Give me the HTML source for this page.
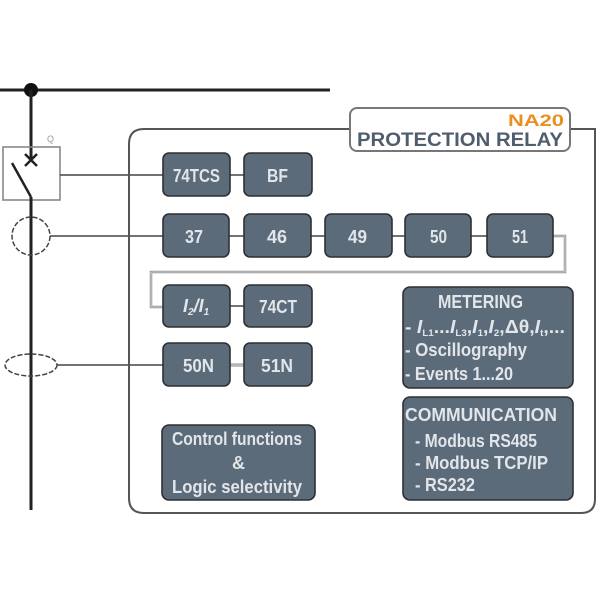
<!DOCTYPE html>
<html><head><meta charset="utf-8"><style>
html,body{margin:0;padding:0;background:#fff;}
svg{display:block;}
.b{fill:#5c6b7a;stroke:#2c3035;stroke-width:1.6;}
.t{fill:#e2e6ea;font-family:"Liberation Sans",sans-serif;font-size:18px;font-weight:bold;}
</style></head><body>
<svg width="600" height="600" viewBox="0 0 600 600" xmlns="http://www.w3.org/2000/svg">
<!-- bus -->
<line x1="0" y1="90" x2="330" y2="90" stroke="#222" stroke-width="3"/>
<circle cx="31" cy="90" r="7" fill="#111"/>
<line x1="31" y1="90" x2="31" y2="160" stroke="#222" stroke-width="3"/>
<!-- breaker -->
<rect x="3" y="147" width="57" height="53" fill="none" stroke="#888" stroke-width="1.6"/>
<text x="47" y="142" font-family="Liberation Sans,sans-serif" font-size="9" fill="#999">Q</text>
<line x1="25" y1="154" x2="37" y2="166" stroke="#222" stroke-width="2.5"/>
<line x1="37" y1="154" x2="25" y2="166" stroke="#222" stroke-width="2.5"/>
<line x1="12" y1="163" x2="31" y2="197" stroke="#222" stroke-width="2.5"/>
<line x1="31" y1="197" x2="31" y2="510" stroke="#222" stroke-width="3"/>
<circle cx="31" cy="236" r="19" fill="none" stroke="#444" stroke-width="1.5" stroke-dasharray="5,2"/>
<ellipse cx="31" cy="365" rx="26" ry="11" fill="none" stroke="#444" stroke-width="1.5" stroke-dasharray="5,2"/>
<!-- feeder lines -->
<line x1="60" y1="175" x2="163" y2="175" stroke="#444" stroke-width="1.5"/>
<line x1="50" y1="236" x2="163" y2="236" stroke="#444" stroke-width="1.5"/>
<line x1="57" y1="365" x2="163" y2="365" stroke="#444" stroke-width="1.5"/>
<!-- main relay box -->
<path d="M144,129 H595 V499 Q595,513 581,513 H144 Q129,513 129,498 V144 Q129,129 144,129 Z" fill="none" stroke="#555" stroke-width="2"/>
<!-- title -->
<rect x="350" y="108" width="220" height="43" rx="7" fill="#fff" stroke="#777" stroke-width="2"/>
<text x="564" y="126" text-anchor="end" font-family="Liberation Sans,sans-serif" font-weight="bold" font-size="17" fill="#e8901e" textLength="56" lengthAdjust="spacingAndGlyphs">NA20</text>
<text x="357" y="146" font-family="Liberation Sans,sans-serif" font-weight="bold" font-size="19" fill="#4f5d6c" textLength="206" lengthAdjust="spacingAndGlyphs">PROTECTION RELAY</text>
<!-- connectors -->
<line x1="230" y1="175" x2="244" y2="175" stroke="#444" stroke-width="1.5"/>
<line x1="229" y1="236" x2="487" y2="236" stroke="#444" stroke-width="1.5"/>
<line x1="230" y1="306" x2="244" y2="306" stroke="#444" stroke-width="1.5"/>
<line x1="230" y1="365" x2="244" y2="365" stroke="#888" stroke-width="3"/>
<line x1="230" y1="365" x2="244" y2="365" stroke="#e6e6e6" stroke-width="1"/>
<path d="M553,236 H565 V272 H151 V307 H163" fill="none" stroke="#8a8a8a" stroke-width="2.5"/>
<path d="M553,236 H565 V272 H151 V307 H163" fill="none" stroke="#ececec" stroke-width="0.8"/>
<!-- row 1 -->
<rect class="b" x="163" y="153" width="67" height="43" rx="6"/>
<text class="t" x="173" y="182" textLength="47" lengthAdjust="spacingAndGlyphs">74TCS</text>
<rect class="b" x="244" y="153" width="68" height="43" rx="6"/>
<text class="t" x="267" y="182" textLength="21" lengthAdjust="spacingAndGlyphs">BF</text>
<!-- row 2 -->
<rect class="b" x="163" y="214" width="66" height="43" rx="6"/>
<text class="t" x="185" y="243" textLength="18" lengthAdjust="spacingAndGlyphs">37</text>
<rect class="b" x="244" y="214" width="67" height="43" rx="6"/>
<text class="t" x="267" y="243" textLength="20" lengthAdjust="spacingAndGlyphs">46</text>
<rect class="b" x="325" y="214" width="67" height="43" rx="6"/>
<text class="t" x="348" y="243" textLength="19" lengthAdjust="spacingAndGlyphs">49</text>
<rect class="b" x="405" y="214" width="66" height="43" rx="6"/>
<text class="t" x="430" y="243" textLength="17" lengthAdjust="spacingAndGlyphs">50</text>
<rect class="b" x="487" y="214" width="66" height="43" rx="6"/>
<text class="t" x="512" y="243" textLength="16" lengthAdjust="spacingAndGlyphs">51</text>
<!-- row 3 -->
<rect class="b" x="163" y="285" width="67" height="42" rx="6"/>
<text class="t" x="183" y="312" font-style="italic" font-size="16">I<tspan font-size="10" dy="3">2</tspan><tspan dy="-3">/I</tspan><tspan font-size="10" dy="3">1</tspan></text>
<rect class="b" x="244" y="285" width="68" height="42" rx="6"/>
<text class="t" x="259" y="313" textLength="38" lengthAdjust="spacingAndGlyphs">74CT</text>
<!-- row 4 -->
<rect class="b" x="163" y="343" width="67" height="43" rx="6"/>
<text class="t" x="183" y="372" textLength="31" lengthAdjust="spacingAndGlyphs">50N</text>
<rect class="b" x="244" y="343" width="68" height="43" rx="6"/>
<text class="t" x="261" y="372" textLength="32" lengthAdjust="spacingAndGlyphs">51N</text>
<!-- control -->
<rect class="b" x="162" y="425" width="153" height="75" rx="7"/>
<text class="t" x="172" y="445" textLength="130" lengthAdjust="spacingAndGlyphs">Control functions</text>
<text class="t" x="238.5" y="469" text-anchor="middle">&amp;</text>
<text class="t" x="172" y="493" textLength="130" lengthAdjust="spacingAndGlyphs">Logic selectivity</text>
<!-- metering -->
<rect class="b" x="403" y="287" width="170" height="101" rx="7"/>
<text class="t" x="438" y="308" textLength="85" lengthAdjust="spacingAndGlyphs">METERING</text>
<text class="t" x="405" y="333" font-size="16" textLength="160" lengthAdjust="spacingAndGlyphs">- <tspan font-style="italic">I</tspan><tspan font-size="9" dy="3">L1</tspan><tspan dy="-3">...</tspan><tspan font-style="italic">I</tspan><tspan font-size="9" dy="3">L3</tspan><tspan dy="-3">,</tspan><tspan font-style="italic">I</tspan><tspan font-size="9" dy="3">1</tspan><tspan dy="-3">,</tspan><tspan font-style="italic">I</tspan><tspan font-size="9" dy="3">2</tspan><tspan dy="-3">,Δθ,</tspan><tspan font-style="italic">I</tspan><tspan font-size="9" dy="3">t</tspan><tspan dy="-3">,...</tspan></text>
<text class="t" x="405" y="356" textLength="122" lengthAdjust="spacingAndGlyphs">- Oscillography</text>
<text class="t" x="405" y="380" textLength="108" lengthAdjust="spacingAndGlyphs">- Events 1...20</text>
<!-- communication -->
<rect class="b" x="403" y="397" width="170" height="103" rx="7"/>
<text class="t" x="405" y="421" textLength="152" lengthAdjust="spacingAndGlyphs">COMMUNICATION</text>
<text class="t" x="415" y="447" textLength="122" lengthAdjust="spacingAndGlyphs">- Modbus RS485</text>
<text class="t" x="415" y="469" textLength="133" lengthAdjust="spacingAndGlyphs">- Modbus TCP/IP</text>
<text class="t" x="415" y="491" textLength="60" lengthAdjust="spacingAndGlyphs">- RS232</text>
</svg>
</body></html>
